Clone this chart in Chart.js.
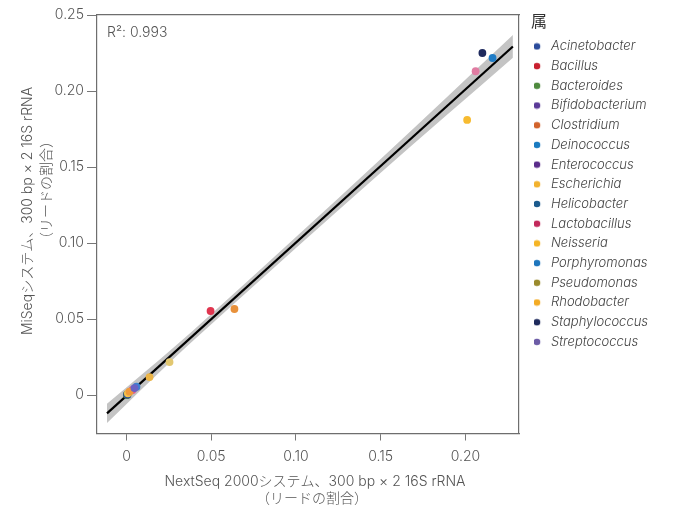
<!DOCTYPE html>
<html>
<head>
<meta charset="utf-8">
<script src="https://cdn.jsdelivr.net/npm/chart.js@4.4.1/dist/chart.umd.min.js"></script>
<style>
  html, body { margin: 0; background: #fff; }
  #wrap { width: 678px; height: 510px; position: relative; }
</style>
</head>
<body>
<div id="wrap"><canvas id="chart"></canvas></div>
<script>
// genus list, legend order
const genera = ['Acinetobacter', 'Bacillus', 'Bacteroides', 'Bifidobacterium', 'Clostridium',
  'Deinococcus', 'Enterococcus', 'Escherichia', 'Helicobacter', 'Lactobacillus', 'Neisseria',
  'Porphyromonas', 'Pseudomonas', 'Rhodobacter', 'Staphylococcus', 'Streptococcus'];
const legendColors = ['#2b4c9b', '#c8202f', '#4e8a3e', '#5b3a98', '#d2632b', '#1a7bc0', '#5a2c8a',
  '#f2b22e', '#1c5b8d', '#c2295b', '#f5b526', '#1f76bd', '#9a8a2c', '#f3ab24', '#1e2a5c', '#6c5ca6'];

// read share: NextSeq (x) vs MiSeq (y)
const nextSeq = [0.0004, 0.0496, 0.0002, 0.0047, 0.0637, 0.0059, 0.0018, 0.2010, 0.0006, 0.2060,
  0.0008, 0.2160, 0.0254, 0.0136, 0.2100, 0.0035];
const miSeq = [0.0004, 0.0553, 0.0001, 0.0046, 0.0566, 0.0055, 0.0022, 0.1810, 0.0002, 0.2130,
  0.0011, 0.2217, 0.0217, 0.0118, 0.2250, 0.0033];
const pointColors = ['#2b4c9b', '#e0354f', '#4e8a3e', '#6a62c4', '#e8913b', '#3f80d0', '#f09a3a',
  '#f7bb30', '#1c5b8d', '#e07ca2', '#f4c24a', '#1f7cc6', '#e2c770', '#ecb445', '#1f2a5e', '#dc5a8c'];
// genera hidden under the cluster at the origin
const underneath = ['Acinetobacter', 'Bacteroides', 'Helicobacter'];

// regression line and its confidence band
const fitX = [-0.0115, 0.2280];
const fitY = [-0.0121, 0.2293];
const bandX = [-0.0115, 0.03, 0.06, 0.10, 0.15, 0.2280];
const bandUpper = [-0.0058, 0.0334, 0.0634, 0.1039, 0.1552, 0.2368];
const bandLower = [-0.0184, 0.0261, 0.0566, 0.0967, 0.1462, 0.2218];
const r2Text = 'R²: 0.993';

const xTicks = [0, 0.05, 0.10, 0.15, 0.20];
const xTickLabels = ['0', '0.05', '0.10', '0.15', '0.20'];
const yTicks = [0, 0.05, 0.10, 0.15, 0.20, 0.25];
const yTickLabels = ['0', '0.05', '0.10', '0.15', '0.20', '0.25'];

const xTitle = ['NextSeq 2000システム、300 bp × 2 16S rRNA', '（リードの割合）'];
const yTitle = ['MiSeqシステム、300 bp × 2 16S rRNA', '（リードの割合）'];
const legendTitle = '属';

const FONT = "Inter, 'Noto Sans CJK JP', sans-serif";
const TXT = '#555';
const FRAME = '#6e6e6e';
Chart.defaults.font.family = FONT;
Chart.defaults.font.weight = 300;
Chart.defaults.color = TXT;

function pts(xs, ys) { return xs.map((x, i) => ({x: x, y: ys[i]})); }

// little dot images for the legend
function dotImage(color) {
  const c = document.createElement('canvas');
  c.width = 14; c.height = 8;
  const g = c.getContext('2d');
  g.fillStyle = color;
  g.beginPath();
  g.arc(2.9, 4, 3.3, 0, Math.PI * 2);
  g.fill();
  return c;
}
const dots = legendColors.map(dotImage);

const datasets = genera.map((g, i) => ({
  type: 'scatter',
  label: g,
  data: [{x: nextSeq[i], y: miSeq[i]}],
  backgroundColor: pointColors[i],
  borderWidth: 0,
  pointRadius: 3.9,
  order: underneath.includes(g) ? 0.5 : 0
}));
datasets.push({
  type: 'line', label: 'fit', data: pts(fitX, fitY),
  borderColor: '#000', borderWidth: 2.2, pointRadius: 0, fill: false, order: 1
});
datasets.push({
  type: 'line', label: 'upper', data: pts(bandX, bandUpper),
  borderWidth: 0, borderColor: 'rgba(0,0,0,0)', backgroundColor: '#c4c4c4',
  pointRadius: 0, fill: '+1', cubicInterpolationMode: 'monotone', order: 2
});
datasets.push({
  type: 'line', label: 'lower', data: pts(bandX, bandLower),
  borderWidth: 0, borderColor: 'rgba(0,0,0,0)', pointRadius: 0, fill: false,
  cubicInterpolationMode: 'monotone', order: 2
});

const extras = {
  id: 'extras',
  afterInit(chart) {
    const fit = chart.legend.fit;
    chart.legend.fit = function () { fit.call(this); this.width = 147; };
  },
  afterDraw(chart) {
    const ctx = chart.ctx;
    const font = '300 14px ' + FONT;
    ctx.save();
    ctx.fillStyle = TXT;
    ctx.font = font;
    ctx.textBaseline = 'middle';
    ctx.textAlign = 'left';
    ctx.fillText(r2Text, 107, 33);
    ctx.textAlign = 'center';
    ctx.fillText(xTitle[0], 315, 482);
    ctx.fillText(xTitle[1], 312, 499);
    ctx.translate(28, 211);
    ctx.rotate(-Math.PI / 2);
    ctx.fillText(yTitle[0], 0, 0);
    ctx.restore();
    ctx.save();
    ctx.fillStyle = TXT;
    ctx.font = font;
    ctx.textBaseline = 'middle';
    ctx.textAlign = 'center';
    ctx.translate(47, 190);
    ctx.rotate(-Math.PI / 2);
    ctx.fillText(yTitle[1], 0, 0);
    ctx.restore();
  }
};

new Chart(document.getElementById('chart'), {
  type: 'scatter',
  data: {datasets: datasets},
  plugins: [extras],
  options: {
    responsive: true,
    maintainAspectRatio: false,
    animation: false,
    layout: {padding: 0},
    scales: {
      x: {
        type: 'linear', position: 'bottom', min: -0.0174, max: 0.2316,
        afterFit: s => { s.height = 76.5; },
        afterBuildTicks: s => { s.ticks = xTicks.map(v => ({value: v})); },
        ticks: {padding: 8, font: {size: 14}, color: TXT, callback: (v, i) => xTickLabels[i]},
        grid: {drawOnChartArea: false, drawTicks: true, tickLength: 7, color: '#777'},
        border: {display: true, color: FRAME, width: 1.2}
      },
      y: {
        type: 'linear', position: 'left', min: -0.0253, max: 0.25,
        afterFit: s => { s.width = 97; },
        afterBuildTicks: s => { s.ticks = yTicks.map(v => ({value: v})); },
        ticks: {padding: 3, font: {size: 14}, color: TXT, callback: (v, i) => yTickLabels[i]},
        grid: {drawOnChartArea: false, drawTicks: true, tickLength: 10, color: '#777'},
        border: {display: true, color: FRAME, width: 1.2}
      },
      x2: {
        type: 'linear', position: 'top', min: -0.0174, max: 0.2316,
        afterFit: s => { s.height = 15; },
        ticks: {display: false},
        grid: {drawOnChartArea: false, drawTicks: false},
        border: {display: true, color: FRAME, width: 1.2}
      },
      y2: {
        type: 'linear', position: 'right', min: -0.0253, max: 0.25,
        afterFit: s => { s.width = 12; },
        ticks: {display: false},
        grid: {drawOnChartArea: false, drawTicks: false},
        border: {display: true, color: FRAME, width: 1.2}
      }
    },
    plugins: {
      tooltip: {enabled: false},
      legend: {
        position: 'right',
        align: 'start',
        title: {display: true, text: legendTitle, position: 'start', color: '#333',
          font: {size: 16, weight: 400}, padding: {top: 14, bottom: 0}},
        labels: {
          usePointStyle: true,
          pointStyleWidth: 6.8,
          boxHeight: 7,
          padding: 6.7,
          color: '#444',
          font: {size: 13, style: 'italic', weight: 300},
          generateLabels: () => genera.map((g, i) => ({
            text: g, fillStyle: legendColors[i], strokeStyle: legendColors[i], lineWidth: 0,
            pointStyle: dots[i], hidden: false, datasetIndex: i, fontColor: '#444'
          }))
        }
      }
    }
  }
});
</script>
</body>
</html>
